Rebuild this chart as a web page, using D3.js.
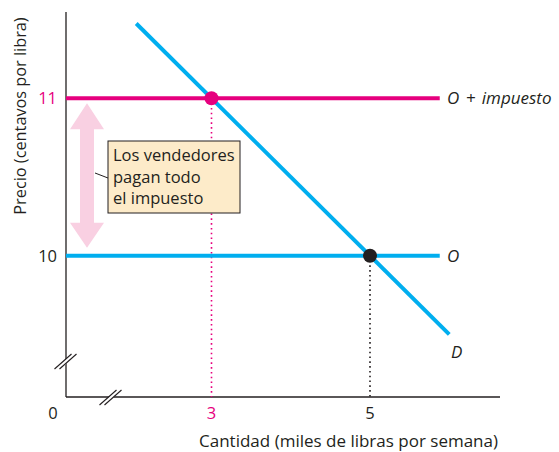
<!DOCTYPE html>
<html>
<head>
<meta charset="utf-8">
<script src="https://cdn.jsdelivr.net/npm/d3@7"></script>
<style>
  body { margin: 0; background: #fff; }
  svg { font-family: "Open Sans", Lato, sans-serif; }
</style>
</head>
<body>
<div id="chart"></div>
<script>
// data
var priceTicks = [10, 11];
var qtyTicks = [3, 5];
var supplyPrice = 10;           // O
var supplyTaxPrice = 11;        // O + impuesto
var demandLine = [[2.05, 11.475], [6.0, 9.5]];   // D
var equilibria = [
  {q: 3, p: 11, color: "#e6007e"},
  {q: 5, p: 10, color: "#231f20"}
];
var noteLines = ["Los vendedores", "pagan todo", "el impuesto"];

var pink = "#e6007e", blue = "#00aeef", ink = "#231f20";

var svg = d3.select("#chart").append("svg").attr("width", 559).attr("height", 452);

var x = d3.scaleLinear().domain([3, 5]).range([211.5, 370]);
var y = d3.scaleLinear().domain([10, 11]).range([255.7, 98.3]);

var x0 = 66, xEnd = 500, yTop = 12, y0 = 397;
var lineEndQ = 5.88;

// axes
svg.append("line").attr("x1", x0).attr("x2", x0).attr("y1", yTop).attr("y2", y0)
  .attr("stroke", ink).attr("stroke-width", 1.3);
svg.append("line").attr("x1", x0).attr("x2", xEnd).attr("y1", y0).attr("y2", y0)
  .attr("stroke", ink).attr("stroke-width", 1.3);

// axis breaks
function breakMark(cx, cy) {
  var g = svg.append("g").attr("transform", "translate(" + cx + "," + cy + ")");
  g.append("polygon").attr("points", "-9,7 -4,7 9,-6 4,-6").attr("fill", "#fff");
  [-2.5, 2.5].forEach(function(o) {
    g.append("line").attr("x1", -9 + o).attr("y1", 8).attr("x2", 8 + o).attr("y2", -7)
      .attr("stroke", ink).attr("stroke-width", 1.1);
  });
}
breakMark(x0, 361);
breakMark(111, y0);

// tick labels
svg.selectAll(".ytick").data(priceTicks).enter().append("text")
  .attr("x", 57).attr("y", function(d) { return y(d); }).attr("dy", "0.36em")
  .attr("text-anchor", "end").attr("font-size", 16.5)
  .attr("fill", function(d) { return d === supplyTaxPrice ? pink : ink; })
  .text(function(d) { return d; });
svg.selectAll(".xtick").data(qtyTicks).enter().append("text")
  .attr("x", function(d) { return x(d); }).attr("y", 419)
  .attr("text-anchor", "middle").attr("font-size", 16.5)
  .attr("fill", function(d) { return d === 3 ? pink : ink; })
  .text(function(d) { return d; });
svg.append("text").attr("x", 53).attr("y", 419).attr("text-anchor", "middle")
  .attr("font-size", 16.5).attr("fill", ink).text("0");

// axis titles
svg.append("text").attr("x", 498).attr("y", 447).attr("text-anchor", "end")
  .attr("font-size", 17).attr("fill", ink).text("Cantidad (miles de libras por semana)");
svg.append("text").attr("transform", "translate(26,116) rotate(-90)")
  .attr("text-anchor", "middle").attr("font-size", 16.3).attr("fill", ink)
  .text("Precio (centavos por libra)");

// dotted guides
equilibria.forEach(function(e) {
  svg.append("line").attr("x1", x(e.q)).attr("x2", x(e.q)).attr("y1", y(e.p)).attr("y2", y0)
    .attr("stroke", e.color).attr("stroke-width", 1.6).attr("stroke-dasharray", "1.6,3.2");
});

// double arrow
var ax = 87, aTop = y(supplyTaxPrice) + 5, aBot = y(supplyPrice) - 8;
svg.append("polygon")
  .attr("points", [
    [ax, aTop], [ax + 17, aTop + 26], [ax + 7, aTop + 26], [ax + 7, aBot - 25],
    [ax + 17, aBot - 25], [ax, aBot], [ax - 17, aBot - 25], [ax - 7, aBot - 25],
    [ax - 7, aTop + 26], [ax - 17, aTop + 26]
  ].join(" "))
  .attr("fill", "#f9d0e2");

// supply lines
var line = d3.line().x(function(d) { return x(d[0]); }).y(function(d) { return y(d[1]); });
var xStartQ = x.invert(x0);
svg.append("path").datum([[xStartQ, supplyPrice], [lineEndQ, supplyPrice]])
  .attr("d", line).attr("stroke", blue).attr("stroke-width", 4).attr("fill", "none");
svg.append("path").datum([[xStartQ, supplyTaxPrice], [lineEndQ, supplyTaxPrice]])
  .attr("d", line).attr("stroke", pink).attr("stroke-width", 4).attr("fill", "none");

// demand
svg.append("path").datum(demandLine)
  .attr("d", line).attr("stroke", blue).attr("stroke-width", 4).attr("fill", "none");

// points
svg.selectAll(".pt").data(equilibria).enter().append("circle")
  .attr("cx", function(d) { return x(d.q); }).attr("cy", function(d) { return y(d.p); })
  .attr("r", 7).attr("fill", function(d) { return d.color; });

// line labels
svg.append("text").attr("x", 447).attr("y", y(supplyTaxPrice)).attr("dy", "0.36em")
  .attr("font-size", 17).attr("word-spacing", 2).attr("font-style", "italic").attr("fill", ink)
  .text("O + impuesto");
svg.append("text").attr("x", 447).attr("y", y(supplyPrice)).attr("dy", "0.36em")
  .attr("font-size", 17).attr("font-style", "italic").attr("fill", ink).text("O");
svg.append("text").attr("x", 451).attr("y", 358)
  .attr("font-size", 17).attr("font-style", "italic").attr("fill", ink).text("D");

// note box
svg.append("line").attr("x1", 95).attr("y1", 173).attr("x2", 108).attr("y2", 178)
  .attr("stroke", ink).attr("stroke-width", 1);
svg.append("rect").attr("x", 108).attr("y", 141).attr("width", 132).attr("height", 72)
  .attr("fill", "#fdebc9").attr("stroke", ink).attr("stroke-width", 1);
svg.append("text").attr("x", 113).attr("y", 161).attr("font-size", 16.5).attr("fill", ink)
  .selectAll("tspan").data(noteLines).enter().append("tspan")
  .attr("x", 113).attr("dy", function(d, i) { return i ? 21.5 : 0; })
  .text(function(d) { return d; });
</script>
</body>
</html>
